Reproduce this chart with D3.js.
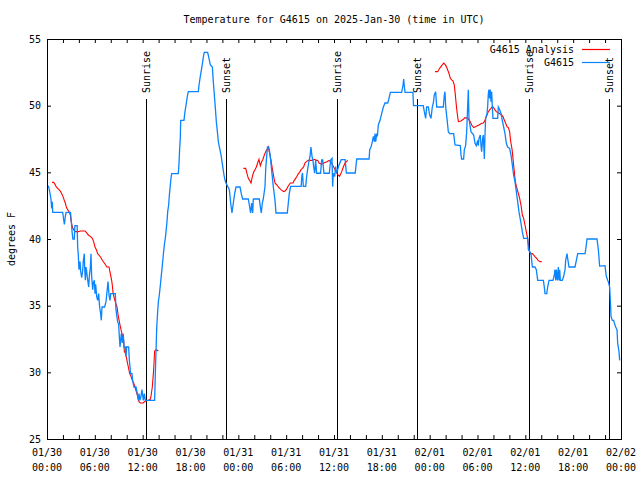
<!DOCTYPE html>
<html><head><meta charset="utf-8">
<script src="https://cdn.jsdelivr.net/npm/d3@7"></script>
<style>
body{margin:0;background:#fff}
text{font-family:"DejaVu Sans Mono",monospace;font-size:10px;fill:#000}
</style></head><body>
<svg id="c" width="640" height="480"></svg>
<script>
// ---- data (hours since 2025-01-30 00:00 UTC) ----
const chartTitle = "Temperature for G4615 on 2025-Jan-30 (time in UTC)";
const yLabel = "degrees F";
const seriesNames = ["G4615 Analysis", "G4615"];

const obsHours = [0.17,0.29,0.5,0.58,0.67,0.72,1.97,2.08,2.18,2.3,2.4,2.95,3.05,3.15,3.25,3.42,3.5,3.78,3.85,3.93,4.01,4.14,4.22,4.35,4.47,4.56,4.68,4.72,4.81,4.89,4.97,5.06,5.23,5.31,5.44,5.52,5.6,5.73,5.81,5.94,6.02,6.1,6.23,6.35,6.48,6.6,6.73,6.81,6.9,7.23,7.4,7.57,7.65,7.78,7.9,7.99,8.57,8.65,8.86,8.99,9.07,9.16,9.32,9.45,9.57,9.66,9.82,9.91,9.99,10.24,10.33,10.49,10.66,10.74,10.91,11.16,11.33,11.45,11.54,11.66,11.79,11.91,12.08,12.21,12.33,13.5,13.55,13.67,13.76,13.88,13.97,14.09,14.22,14.3,14.43,14.51,14.63,14.72,14.84,14.93,15.05,15.14,15.26,15.35,15.47,15.55,15.64,16.47,16.56,16.64,16.72,16.77,17.18,17.31,17.44,17.6,17.73,18.98,19.07,19.23,19.4,19.53,19.65,19.73,20.15,20.32,20.49,20.74,20.86,20.99,21.12,21.24,21.37,21.49,21.66,21.83,21.95,22.08,22.2,22.33,22.45,22.87,23.04,23.2,23.37,23.54,23.71,24.21,24.37,24.54,25.25,25.38,25.54,25.67,25.8,25.88,26.63,26.76,26.88,27.01,27.13,27.34,27.43,27.55,27.66,27.8,27.97,28.09,28.22,28.39,28.6,28.72,30.14,30.27,30.39,30.56,31.88,31.98,32.05,32.15,32.45,32.57,32.69,32.82,32.99,33.11,33.24,33.36,33.45,33.57,33.7,33.82,34.32,34.45,34.58,34.74,35.41,35.58,35.75,35.83,35.91,36.08,36.21,36.33,36.6,36.9,37.4,37.55,38.66,38.85,40.4,40.48,40.64,40.81,40.94,41.06,41.15,41.23,41.36,41.44,41.56,41.77,41.98,42.19,42.4,42.74,42.9,43.07,44.49,44.66,44.74,44.83,44.91,45.9,45.97,47.2,47.33,47.5,47.62,47.83,48.0,48.17,48.33,48.46,48.58,48.75,48.88,49.71,49.84,49.92,50.01,50.17,50.34,50.51,51.01,51.18,51.85,51.93,52.01,52.26,52.35,52.51,52.64,52.77,52.85,52.93,53.18,53.52,53.68,53.85,54.02,54.1,54.19,54.35,54.44,54.52,54.65,54.73,54.86,54.94,55.02,55.19,55.27,55.36,55.44,55.52,55.61,55.69,55.78,55.86,55.94,56.53,56.61,56.78,56.95,57.11,57.28,57.45,57.61,57.78,58.03,58.2,58.37,58.53,58.7,58.87,59.04,59.2,59.45,59.62,59.79,60.3,60.38,60.55,60.71,60.88,61.21,61.38,61.55,62.26,62.38,62.47,62.68,62.8,62.97,63.47,63.64,63.72,63.81,63.89,64.02,64.14,64.22,64.31,64.39,64.64,64.81,64.98,65.06,65.23,65.31,65.48,66.23,66.4,66.57,67.49,67.57,67.74,68.99,69.16,69.32,69.99,70.16,70.33,70.41,70.58,70.66,70.75,70.91,71.08,71.16,71.33,71.5,71.58,71.75,71.83];
const obsTempF = [44,43.7,43,42.3,42.8,42,42,41.5,41.1,41.7,42,42,41.3,40.5,40,40,41,41,39.4,38.8,37.7,38.3,37.6,37.1,37.6,38.4,38.9,37.9,36.9,37.9,37.6,37.1,36.4,37.2,37.9,38.9,37.2,36.2,36.7,36.9,35.9,36.6,35.7,35.4,35.9,34.9,34.4,33.9,34.9,34.9,35.3,36.3,36.8,35.8,35.4,35.9,35.9,34.7,33.8,33.6,32.7,31.9,32.9,32.2,32.9,31.9,31.9,31.2,31.9,31.9,30.9,29.9,29.9,29.4,28.9,28.9,28.4,27.9,28.4,27.9,28.2,28.7,27.9,28.4,27.9,27.9,29.05,31.55,33.3,34.55,35.3,35.8,36.55,37.05,37.8,38.3,39.05,39.55,40.05,40.55,41.3,42.05,42.55,43.3,44.05,44.55,44.9,44.9,45.7,46.8,47.55,48.9,48.9,49.55,50.05,50.7,51.05,51.05,51.55,52.2,52.8,53.3,53.8,54,54,53.55,53.05,52.9,51.8,50.8,49.8,48.8,48.05,47.3,46.8,46.3,45.8,45.3,44.8,44.4,44.2,43.7,42.7,41.95,42.7,43.4,43.9,43.9,43.4,43,43,42.55,41.95,42.7,41.95,43,43,42.4,41.95,42.7,43,43.9,45.2,46.2,46.9,46.9,46.4,45.7,44.9,43.9,42.9,41.95,41.95,42.7,43.4,43.95,43.95,44.8,44.95,43.95,43.95,44.7,45.2,45.7,46.2,46.9,46.2,45.9,45.4,44.93,45.93,44.93,44.93,45.93,45.93,44.93,44.93,45.93,46.05,43.93,44.93,44.68,45.43,44.93,45.5,45.95,45.95,44.95,44.95,46,46,46.7,46.9,47.3,47.7,47.3,47.9,47.3,47.9,47.7,48.55,48.9,49.4,49.9,50.2,50.2,50.55,51,51,51.55,52,51.4,51,51,50,50,49.55,49.05,49.9,49.9,49.3,49.05,49.9,50.2,50.8,51.05,49.9,49.9,50.8,51.05,49.9,49.05,48.05,47.9,47.9,47.05,47,46.3,46,46,46.7,47,48,50,51.2,49.05,48.05,47.8,47.2,47,47.4,47,47.55,47.8,47,46.55,47.55,47.8,46,47.8,49.05,49.4,49.9,50.9,51.2,50.55,51.2,50.3,51.05,49.9,49.05,49.05,49.9,49.7,49.4,48.9,48.4,47.9,47.2,46.9,46.8,46.3,45.55,44.8,44.3,43.55,42.8,42.05,41.2,40.55,40.05,40.05,39.2,39.05,38.9,37.9,37.9,37.7,36.9,36.9,36.4,35.9,35.9,36.4,36.9,36.9,37.3,37.7,36.9,37.7,36.9,37.9,36.9,37.7,36.9,36.9,37.2,37.7,38.4,38.9,38.55,37.9,37.9,38.4,38.9,38.9,39.2,40,40,39.2,37.97,38,37.2,36.9,36.8,36.4,35.4,34.2,33.9,33.9,33.7,33.4,33.2,32.2,31.55,30.9];

// analysis (null = gap)
const anaHours = [0.63,0.84,1.0,1.17,1.34,1.5,1.67,1.84,2.0,2.17,2.3,2.42,2.59,2.76,2.93,3.01,3.18,3.34,3.51,3.93,4.18,4.77,4.93,5.18,5.43,5.69,5.85,6.02,6.19,6.35,6.52,6.77,6.94,7.19,7.36,7.52,7.78,7.94,8.11,8.19,8.28,8.44,8.61,8.78,8.95,9.11,9.28,9.45,9.62,9.7,9.87,10.03,10.2,10.37,10.54,10.7,10.87,11.04,11.2,11.37,11.54,11.71,12.04,12.37,12.71,12.96,13.04,13.21,13.38,13.5,13.71,13.97,
  20,
  24.63,24.92,25.09,25.25,25.42,25.59,25.76,25.92,26.09,26.26,26.42,26.59,26.68,26.76,26.93,27.09,27.26,27.43,27.6,27.76,27.93,28.1,28.26,28.43,28.6,28.85,29.02,29.18,29.35,29.69,29.85,30.02,30.19,30.35,30.52,30.86,31.02,31.19,31.36,31.53,31.69,31.86,32.03,32.19,32.36,32.53,32.78,33.28,33.53,33.78,33.95,34.12,34.45,34.7,35.12,35.37,35.54,35.71,35.87,36.04,36.21,36.45,36.7,36.97,37.17,37.38,37.72,
  43,
  48.67,49.0,49.25,49.5,49.76,49.92,50.09,50.26,50.42,50.59,50.76,50.93,51.09,51.18,51.26,51.34,51.43,51.51,51.6,51.93,52.26,52.43,52.77,52.93,53.1,53.27,53.52,53.85,54.19,54.52,54.69,54.86,55.02,55.19,55.36,55.52,55.69,55.86,56.03,56.19,56.36,56.7,57.03,57.2,57.36,57.53,57.7,57.87,58.03,58.12,58.2,58.28,58.37,58.45,58.53,58.62,58.7,58.79,58.95,59.12,59.29,59.45,59.54,59.62,59.79,59.96,60.12,60.29,60.37,60.46,60.54,60.63,60.88,61.05,61.21,61.42,61.63,61.84,62.05];
const anaTempF = [44.25,44.25,44.1,43.9,43.8,43.7,43.6,43.4,43.2,42.9,42.7,42.4,42.2,42.05,41.8,41.4,40.9,40.7,40.55,40.55,40.6,40.6,40.5,40.3,40.2,40.05,39.8,39.4,39.2,38.9,38.8,38.6,38.4,38.2,38.05,37.9,37.9,37.4,36.9,36.55,36.0,35.55,35.2,34.9,34.2,33.7,33.2,32.8,32.4,31.55,31.4,30.9,30.4,29.9,29.7,29.4,29.2,28.9,28.55,28.2,27.8,27.7,27.7,27.85,27.9,27.98,28.2,28.9,30.2,31.6,31.7,31.6,
  null,
  45.3,45.3,44.9,44.55,44.4,44.2,44.7,45.0,45.2,45.4,45.7,45.98,45.7,45.5,45.8,45.98,46.3,46.55,46.7,46.9,46.4,45.9,45.3,44.7,44.2,44.05,43.9,43.8,43.7,43.55,43.6,43.7,43.9,44.05,44.2,44.2,44.4,44.55,44.7,44.9,45.0,45.2,45.3,45.4,45.7,45.8,45.9,45.9,45.98,45.9,45.9,45.7,45.6,45.7,45.8,45.9,45.8,45.7,45.5,45.3,45.1,44.85,44.7,45.05,45.4,45.7,45.9,
  null,
  52.55,52.55,52.8,53.0,53.2,53.1,52.93,52.68,52.43,52.05,51.93,51.85,51.55,51.05,50.55,50.05,49.55,49.18,48.8,48.85,49.0,49.1,49.05,48.93,48.8,48.55,48.35,48.45,48.55,48.68,48.68,48.8,49.05,49.3,49.55,49.68,49.8,49.93,49.85,49.68,49.55,49.43,49.3,49.18,48.93,48.68,48.43,48.35,48.05,47.55,47.18,46.93,46.55,46.05,45.55,45.05,44.55,44.18,43.8,43.43,43.05,42.55,42.18,41.8,41.55,41.05,40.55,40.05,39.68,39.3,39.05,38.9,38.9,38.8,38.68,38.55,38.38,38.3,38.3];

const eventHours = [12.46, 22.45, 36.38, 46.45, 60.5, 70.53];
const eventLabels = ["Sunrise","Sunset","Sunrise","Sunset","Sunrise","Sunset"];

const yTicks = [25,30,35,40,45,50,55];
const xTickHours = [0,6,12,18,24,30,36,42,48,54,60,66,72];
const xTickDates = ["01/30","01/30","01/30","01/30","01/31","01/31","01/31","01/31","02/01","02/01","02/01","02/01","02/02"];
const xTickTimes = ["00:00","06:00","12:00","18:00","00:00","06:00","12:00","18:00","00:00","06:00","12:00","18:00","00:00"];
const xMinorHours = d3.range(0, 73, 2);

// ---- drawing ----
const W = 640, H = 480, L = 47, R = 621, T = 39, B = 439;
const t0 = Date.UTC(2025, 0, 30);
const toDate = h => new Date(t0 + h * 3600000);
const x = d3.scaleUtc().domain([toDate(0), toDate(72)]).range([L, R]);
const y = d3.scaleLinear().domain([25, 55]).range([B, T]);

const svg = d3.select("#c");
svg.append("rect").attr("width", W).attr("height", H).attr("fill", "#fff");

// ticks (all four sides, pointing inward)
const noDomain = g => g.select(".domain").remove();
svg.append("g").attr("transform", `translate(0,${B})`)
  .call(d3.axisBottom(x).tickValues(xMinorHours.map(toDate)).tickSize(-4).tickFormat(""))
  .call(noDomain);
svg.append("g").attr("transform", `translate(0,${T})`)
  .call(d3.axisTop(x).tickValues(xMinorHours.map(toDate)).tickSize(-4).tickFormat(""))
  .call(noDomain);
svg.append("g").attr("transform", `translate(${L},0)`)
  .call(d3.axisLeft(y).tickValues(yTicks).tickSize(-4).tickFormat(""))
  .call(noDomain);
svg.append("g").attr("transform", `translate(${R},0)`)
  .call(d3.axisRight(y).tickValues(yTicks).tickSize(-4).tickFormat(""))
  .call(noDomain);
svg.selectAll(".tick line").attr("stroke", "#000");

// tick labels
svg.append("g").selectAll("text").data(yTicks).join("text")
  .attr("x", L - 6).attr("y", d => y(d) + 3.5).attr("text-anchor", "end").text(d => d);
const xl = svg.append("g").selectAll("text").data(xTickHours).join("text")
  .attr("text-anchor", "middle");
xl.append("tspan").attr("x", h => x(toDate(h))).attr("y", 456).text((h, i) => xTickDates[i]);
xl.append("tspan").attr("x", h => x(toDate(h))).attr("y", 471).text((h, i) => xTickTimes[i]);

// frame
svg.append("rect").attr("x", L + 0.5).attr("y", T + 0.5).attr("width", R - L).attr("height", B - T)
  .attr("fill", "none").attr("stroke", "#000").attr("stroke-width", 1);

// title & axis label
svg.append("text").attr("x", (L + R) / 2).attr("y", 22.5).attr("text-anchor", "middle").text(chartTitle);
svg.append("text").attr("transform", `translate(15,${(T + B) / 2}) rotate(-90)`).attr("text-anchor", "middle").text(yLabel);

// sunrise / sunset markers
const ev = svg.append("g");
eventHours.forEach((h, i) => {
  const ex = Math.round(x(toDate(h))) + 0.5;
  ev.append("line").attr("x1", ex).attr("x2", ex).attr("y1", 99).attr("y2", B)
    .attr("stroke", "#000").attr("stroke-width", 1);
  ev.append("text").attr("transform", `translate(${ex},93) rotate(-90)`)
    .attr("dy", "0.36em").attr("text-anchor", "start").text(eventLabels[i]);
});

// series
const ana = anaHours.map((h, i) => ({ d: toDate(h), v: anaTempF[i] }));
const obs = obsHours.map((h, i) => ({ d: toDate(h), v: obsTempF[i] }));
const line = d3.line().defined(p => p.v != null).x(p => x(p.d)).y(p => y(p.v));
svg.append("path").datum(ana).attr("d", line).attr("fill", "none").attr("stroke", "#ff0000").attr("stroke-width", 1.1);
svg.append("path").datum(obs).attr("d", line).attr("fill", "none").attr("stroke", "#0a84ff").attr("stroke-width", 1.3);

// legend
const leg = [{ name: seriesNames[0], c: "#ff0000", y: 49.5 }, { name: seriesNames[1], c: "#0a84ff", y: 62.5 }];
leg.forEach(l => {
  svg.append("text").attr("x", 574).attr("y", l.y + 3.5).attr("text-anchor", "end").text(l.name);
  svg.append("line").attr("x1", 582).attr("x2", 610).attr("y1", l.y).attr("y2", l.y)
    .attr("stroke", l.c).attr("stroke-width", 1.2);
});
</script>
</body></html>
